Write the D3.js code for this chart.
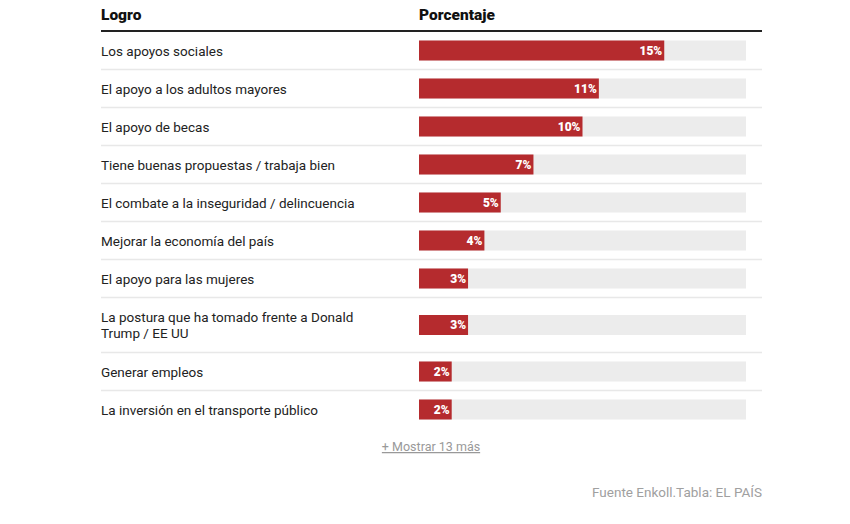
<!DOCTYPE html>
<html>
<head>
<meta charset="utf-8">
<script src="https://cdn.jsdelivr.net/npm/d3@7"></script>
<style>
  body { margin: 0; background: #fff; font-family: Roboto, "Noto Sans", sans-serif; }
  svg text { font-family: Roboto, "Noto Sans", sans-serif; }
</style>
</head>
<body>
<div id="chart"></div>
<script>
// datos
const logros = [
    "Los apoyos sociales",
    "El apoyo a los adultos mayores",
    "El apoyo de becas",
    "Tiene buenas propuestas / trabaja bien",
    "El combate a la inseguridad / delincuencia",
    "Mejorar la economía del país",
    "El apoyo para las mujeres",
    "La postura que ha tomado frente a Donald Trump / EE UU",
    "Generar empleos",
    "La inversión en el transporte público"
];
const porcentajes = [15, 11, 10, 7, 5, 4, 3, 3, 2, 2];
const encabezados = ["Logro", "Porcentaje"];
const fuente = "Fuente Enkoll.Tabla: EL PAÍS";
const masTexto = "+ Mostrar 13 más";

const width = 850, height = 524;
const left = 101, right = 762;
const barX = 419, barEnd = 746;
const headerY = 31;
const rowH = 38, lineH = 16, barH = 20;
const labelMax = 275;

const svg = d3.select("#chart").append("svg")
    .attr("width", width)
    .attr("height", height);

const x = d3.scaleLinear()
    .domain([0, 20])
    .range([barX, barEnd]);

// encabezado
svg.selectAll("text.head")
    .data(encabezados)
    .enter()
    .append("text")
    .attr("class", "head")
    .attr("x", (d, i) => i === 0 ? left : barX)
    .attr("y", 20)
    .attr("font-size", 15.5)
    .attr("font-weight", 900)
    .attr("fill", "#111")
    .text(d => d);

svg.append("line")
    .attr("x1", left).attr("x2", right)
    .attr("y1", headerY).attr("y2", headerY)
    .attr("stroke", "#222")
    .attr("stroke-width", 2);

// filas
let y = headerY + 1;
logros.forEach(function (d, i) {
    const g = svg.append("g");
    const label = g.append("text")
        .attr("x", left)
        .attr("font-size", 13.5)
        .attr("fill", "#222");

    // partir el texto en lineas
    const words = d.split(" ");
    let lines = [];
    let line = [];
    const probe = label.append("tspan");
    words.forEach(function (w) {
        line.push(w);
        probe.text(line.join(" "));
        if (probe.node().getComputedTextLength() > labelMax && line.length > 1) {
            line.pop();
            lines.push(line.join(" "));
            line = [w];
        }
    });
    lines.push(line.join(" "));
    probe.remove();

    const h = rowH + (lines.length - 1) * (lineH + 1);
    const cy = y + h / 2 - 0.5;

    lines.forEach(function (l, j) {
        label.append("tspan")
            .attr("x", left)
            .attr("y", cy + 5 + (j - (lines.length - 1) / 2) * lineH)
            .text(l);
    });

    g.append("rect")
        .attr("x", x(0))
        .attr("y", cy - barH / 2)
        .attr("width", x(20) - x(0))
        .attr("height", barH)
        .attr("fill", "#ececec");

    g.append("rect")
        .attr("x", x(0))
        .attr("y", cy - barH / 2)
        .attr("width", x(porcentajes[i]) - x(0))
        .attr("height", barH)
        .attr("fill", "#b52b2e");

    g.append("text")
        .attr("x", x(porcentajes[i]) - 2)
        .attr("y", cy + 4)
        .attr("text-anchor", "end")
        .attr("font-size", 12)
        .attr("font-weight", 900)
        .attr("fill", "#fff")
        .text(porcentajes[i] + "%");

    y += h;
    if (i < logros.length - 1) {
        svg.append("line")
            .attr("x1", left).attr("x2", right)
            .attr("y1", y - 0.5).attr("y2", y - 0.5)
            .attr("stroke", "#e8e8e8")
            .attr("stroke-width", 1.5);
    }
});

// mostrar mas
svg.append("text")
    .attr("x", 431)
    .attr("y", 451)
    .attr("text-anchor", "middle")
    .attr("font-size", 12.5)
    .attr("fill", "#999")
    .attr("text-decoration", "underline")
    .text(masTexto);

// fuente
svg.append("text")
    .attr("x", right)
    .attr("y", 497)
    .attr("text-anchor", "end")
    .attr("font-size", 13.5)
    .attr("fill", "#a0a0a0")
    .text(fuente);
</script>
</body>
</html>
